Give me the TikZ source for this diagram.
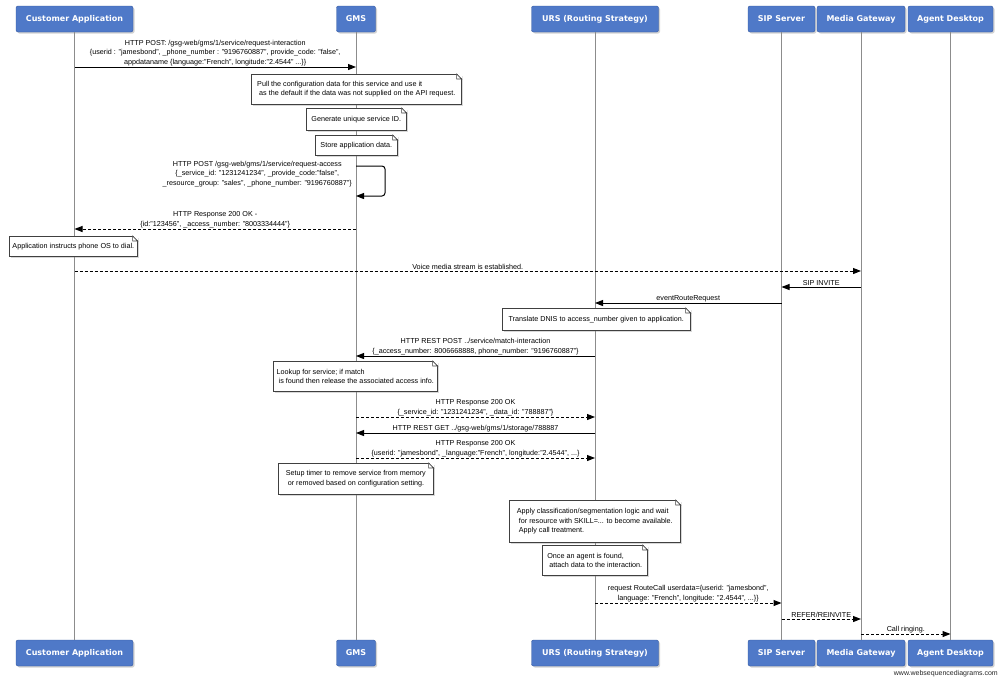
\documentclass[tikz,border=0pt]{standalone}
\usepackage{fontspec}
\setmainfont{Liberation Sans}
\newfontfamily\hdrfont{DejaVu Sans}
\usetikzlibrary{arrows.meta,shadows}
\definecolor{hdrblue}{RGB}{79,121,200}
\definecolor{hdrborder}{RGB}{52,88,160}
\definecolor{lifegray}{RGB}{140,140,140}
\tikzset{
 actor/.style={draw=hdrborder, fill=hdrblue, rounded corners=2pt, text=white,
   font=\hdrfont\bfseries\fontsize{8}{9}\selectfont, minimum height=26pt, inner sep=0pt,
   drop shadow={shadow xshift=1.5pt, shadow yshift=-1.5pt, opacity=0.35}},
 lifeline/.style={draw=lifegray, line width=0.8pt},
 sync/.style={draw=black, line width=1pt, -{Triangle[length=8pt,width=6pt]}},
 reply/.style={sync, dash pattern=on 3pt off 2pt},
 lbl/.style={font=\fontsize{7.2}{9.5}\selectfont, align=center, inner sep=1pt, anchor=south},
 note/.style={draw=black!75, fill=white, line width=0.6pt, font=\fontsize{7.2}{9.5}\selectfont,
   align=left, anchor=north west, inner sep=2pt,
   drop shadow={shadow xshift=2pt, shadow yshift=-2pt, opacity=0.3}},
 fold/.style={draw=black!75, line width=0.6pt, fill=white}
}
\newcommand{\dogear}[1]{%
  \fill[white] ([xshift=-5pt,yshift=0.8pt]#1.north east) -- ([xshift=0.8pt,yshift=0.8pt]#1.north east) -- ([xshift=0.8pt,yshift=-5pt]#1.north east) -- cycle;
  \draw[fold] ([xshift=-5pt]#1.north east) -- ([xshift=-5pt,yshift=-5pt]#1.north east) -- ([yshift=-5pt]#1.north east) -- cycle;}
\newcommand{\notenode}[6]{%
  \node[note, minimum width=#4pt, minimum height=#5pt] (#1) at (#2,#3) {#6};
  \dogear{#1}}
\begin{document}
\begin{tikzpicture}[x=1pt,y=-1pt]
\useasboundingbox (0,0) rectangle (1000,678);
\fill[white] (0,0) rectangle (1000,678);
% actors top
\node[actor, minimum width=117pt] (ca) at (74.5,19) {Customer Application};
\node[actor, minimum width=39pt] (gms) at (356,19) {GMS};
\node[actor, minimum width=127pt] (urs) at (595,19) {URS (Routing Strategy)};
\node[actor, minimum width=67pt] (sip) at (781.5,19) {SIP Server};
\node[actor, minimum width=88pt] (mg) at (861,19) {Media Gateway};
\node[actor, minimum width=85pt] (ad) at (950.5,19) {Agent Desktop};
% actors bottom
\node[actor, minimum width=117pt] (cab) at (74.5,653) {Customer Application};
\node[actor, minimum width=39pt] (gmsb) at (356,653) {GMS};
\node[actor, minimum width=127pt] (ursb) at (595,653) {URS (Routing Strategy)};
\node[actor, minimum width=67pt] (sipb) at (781.5,653) {SIP Server};
\node[actor, minimum width=88pt] (mgb) at (861,653) {Media Gateway};
\node[actor, minimum width=85pt] (adb) at (950.5,653) {Agent Desktop};
% lifelines
\draw[lifeline] (ca.south) -- (cab.north);
\draw[lifeline] (gms.south) -- (gmsb.north);
\draw[lifeline] (urs.south) -- (ursb.north);
\draw[lifeline] (sip.south) -- (sipb.north);
\draw[lifeline] (mg.south) -- (mgb.north);
\draw[lifeline] (ad.south) -- (adb.north);
% messages
\draw[sync] (ca |- 0,67) -- (gms |- 0,67) node[lbl, midway] (l1) {HTTP POST: /gsg-web/gms/1/service/request-interaction\\\{userid : "jamesbond", \_phone\_number : "9196760887", provide\_code: "false",\\appdataname \{language:"French", longitude:"2.4544" ...\}\}};
\notenode{n1}{251}{74}{210}{30}{Pull the configuration data for this service and use it\\\hspace{2pt}as the default if the data was not supplied on the API request.}
\notenode{n2}{306}{108}{100}{22}{Generate unique service ID.}
\notenode{n3}{315}{135}{82}{20}{Store application data.}
\draw[sync, rounded corners=3pt] (gms |- 0,166) -- ++(29,0) -- ++(0,30) -- (gms |- 0,196);
\node[lbl, anchor=north east] (l2) at (353,160) {HTTP POST /gsg-web/gms/1/service/request-access\\\{\_service\_id: "1231241234", \_provide\_code:"false",\\\_resource\_group: "sales", \_phone\_number: "9196760887"\}};
\draw[reply] (gms |- 0,229) -- (ca |- 0,229) node[lbl, midway] (l3) {HTTP Response 200 OK -\\\{id:"123456", \_access\_number: "8003334444"\}};
\notenode{n4}{9}{236}{128}{20}{Application instructs phone OS to dial.}
\draw[reply] (ca |- 0,271) -- (mg |- 0,271) node[lbl, midway] (l4) {Voice media stream is established.};
\draw[sync] (mg |- 0,287) -- (sip |- 0,287) node[lbl, midway] (l5) {SIP INVITE};
\draw[sync] (sip |- 0,303) -- (urs |- 0,303) node[lbl, midway] (l6) {eventRouteRequest};
\notenode{n5}{502}{308}{188}{22}{Translate DNIS to access\_number given to application.}
\draw[sync] (urs |- 0,356) -- (gms |- 0,356) node[lbl, midway] (l7) {HTTP REST POST ../service/match-interaction\\\{\_access\_number: 8006668888, phone\_number: "9196760887"\}};
\notenode{n6}{273}{361}{164}{30}{Lookup for service; if match\\\hspace{2pt}is found then release the associated access info.}
\draw[reply] (gms |- 0,417) -- (urs |- 0,417) node[lbl, midway] (l8) {HTTP Response 200 OK\\\{\_service\_id: "1231241234", \_data\_id: "788887"\}};
\draw[sync] (urs |- 0,433) -- (gms |- 0,433) node[lbl, midway] (l9) {HTTP REST GET ../gsg-web/gms/1/storage/788887};
\draw[reply] (gms |- 0,458) -- (urs |- 0,458) node[lbl, midway] (l10) {HTTP Response 200 OK\\\{userid: "jamesbond", \_language:"French", longitude:"2.4544", ...\}};
\notenode{n7}{278}{463}{155}{31}{Setup timer to remove service from memory\\\hspace{2pt}or removed based on configuration setting.}
\notenode{n8}{509}{500}{171}{42}{Apply classification/segmentation logic and wait\\\hspace{2pt}for resource with SKILL=... to become available.\\\hspace{2pt}Apply call treatment.}
\notenode{n9}{542}{545}{105}{30}{Once an agent is found,\\\hspace{2pt}attach data to the interaction.}
\draw[reply] (urs |- 0,603) -- (sip |- 0,603) node[lbl, midway] (l11) {request RouteCall userdata=\{userid: "jamesbond",\\language: "French", longitude: "2.4544", ...\}\}};
\draw[reply] (sip |- 0,619) -- (mg |- 0,619) node[lbl, midway] (l12) {REFER/REINVITE};
\draw[reply] (mg |- 0,634) -- (ad |- 0,634) node[lbl, midway] (l13) {Call ringing.};
\node[font=\fontsize{7}{8}\selectfont, anchor=south east, text=black!85, inner sep=0pt] (wsd) at (998,677) {www.websequencediagrams.com};
\end{tikzpicture}
\end{document}
